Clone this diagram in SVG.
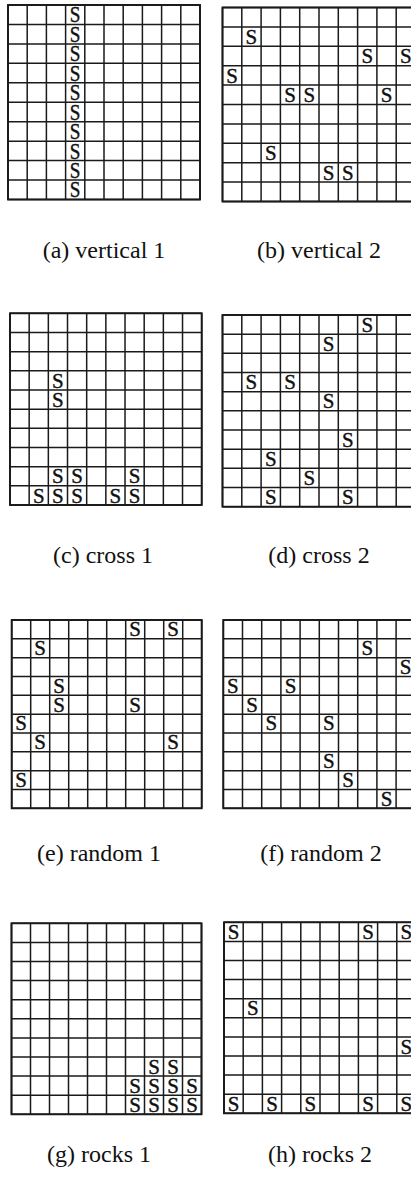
<svg xmlns="http://www.w3.org/2000/svg" width="411" height="1179" viewBox="0 0 411 1179">
<style>
.bg{fill:#fff}
.gl{fill:none;stroke:#1a1a1a;stroke-width:1.5}
.bd{fill:none;stroke:#1a1a1a;stroke-width:1.9}
.s{font-family:"Liberation Serif","Times New Roman",serif;font-size:21px;fill:#111;stroke:#111;stroke-width:0.4;text-anchor:middle}
.sa{font-family:"Liberation Serif","Times New Roman",serif;font-size:24px;fill:#111;stroke:#111;stroke-width:0.4;text-anchor:middle}
.lb{font-family:"Liberation Serif","Times New Roman",serif;font-size:24px;fill:#111;text-anchor:middle}
</style>
<rect class="bg" x="0" y="0" width="411" height="1179"/>

<g id="grid-a">
<path class="gl" d="M8 5h192m-192 19.45h192m-192 19.45h192m-192 19.45h192m-192 19.45h192m-192 19.45h192m-192 19.45h192m-192 19.45h192m-192 19.45h192m-192 19.45h192m-192 19.45h192M8 5v194.5m19.2-194.5v194.5m19.2-194.5v194.5m19.2-194.5v194.5m19.2-194.5v194.5m19.2-194.5v194.5m19.2-194.5v194.5m19.2-194.5v194.5m19.2-194.5v194.5m19.2-194.5v194.5m19.2-194.5v194.5"/>
<rect class="bd" x="8" y="5" width="192" height="194.5"/>
<g transform="translate(75.2,0) scale(0.8,1)">
<text class="sa" x="0" y="22.4">S</text><text class="sa" x="0" y="41.85">S</text><text class="sa" x="0" y="61.3">S</text><text class="sa" x="0" y="80.75">S</text><text class="sa" x="0" y="100.2">S</text><text class="sa" x="0" y="119.65">S</text><text class="sa" x="0" y="139.1">S</text><text class="sa" x="0" y="158.55">S</text><text class="sa" x="0" y="178">S</text><text class="sa" x="0" y="197.45">S</text>
</g>
<text class="lb" x="104" y="258">(a) vertical 1</text>
</g>

<g id="grid-b">
<path class="gl" d="M222.5 7.5h193m-193 19.4h193m-193 19.4h193m-193 19.4h193m-193 19.4h193m-193 19.4h193m-193 19.4h193m-193 19.4h193m-193 19.4h193m-193 19.4h193m-193 19.4h193M222.5 7.5v194m19.3-194v194m19.3-194v194m19.3-194v194m19.3-194v194m19.3-194v194m19.3-194v194m19.3-194v194m19.3-194v194m19.3-194v194m19.3-194v194"/>
<rect class="bd" x="222.5" y="7.5" width="193" height="194"/>
<text class="s" x="251.45" y="43.8">S</text>
<text class="s" x="367.25" y="63.2">S</text>
<text class="s" x="405.85" y="63.2">S</text>
<text class="s" x="232.15" y="82.6">S</text>
<text class="s" x="290.05" y="102">S</text>
<text class="s" x="309.35" y="102">S</text>
<text class="s" x="386.55" y="102">S</text>
<text class="s" x="270.75" y="160.2">S</text>
<text class="s" x="328.65" y="179.6">S</text>
<text class="s" x="347.95" y="179.6">S</text>
<text class="lb" x="319" y="258">(b) vertical 2</text>
</g>

<g id="grid-c">
<path class="gl" d="M10 313.3h191.7m-191.7 19.17h191.7m-191.7 19.17h191.7m-191.7 19.17h191.7m-191.7 19.17h191.7m-191.7 19.17h191.7m-191.7 19.17h191.7m-191.7 19.17h191.7m-191.7 19.17h191.7m-191.7 19.17h191.7m-191.7 19.17h191.7M10 313.3v191.7m19.17-191.7v191.7m19.17-191.7v191.7m19.17-191.7v191.7m19.17-191.7v191.7m19.17-191.7v191.7m19.17-191.7v191.7m19.17-191.7v191.7m19.17-191.7v191.7m19.17-191.7v191.7m19.17-191.7v191.7"/>
<rect class="bd" x="10" y="313.3" width="191.7" height="191.7"/>
<text class="s" x="57.9" y="387.5">S</text>
<text class="s" x="57.9" y="406.65">S</text>
<text class="s" x="57.9" y="483.3">S</text>
<text class="s" x="77.1" y="483.3">S</text>
<text class="s" x="134.6" y="483.3">S</text>
<text class="s" x="38.8" y="502.5">S</text>
<text class="s" x="57.9" y="502.5">S</text>
<text class="s" x="77.1" y="502.5">S</text>
<text class="s" x="115.4" y="502.5">S</text>
<text class="s" x="134.6" y="502.5">S</text>
<text class="lb" x="103" y="563">(c) cross 1</text>
</g>

<g id="grid-d">
<path class="gl" d="M222.5 315h193m-193 19.17h193m-193 19.17h193m-193 19.17h193m-193 19.17h193m-193 19.17h193m-193 19.17h193m-193 19.17h193m-193 19.17h193m-193 19.17h193m-193 19.17h193M222.5 315v191.7m19.3-191.7v191.7m19.3-191.7v191.7m19.3-191.7v191.7m19.3-191.7v191.7m19.3-191.7v191.7m19.3-191.7v191.7m19.3-191.7v191.7m19.3-191.7v191.7m19.3-191.7v191.7m19.3-191.7v191.7"/>
<rect class="bd" x="222.5" y="315" width="193" height="191.7"/>
<text class="s" x="367.25" y="331.67">S</text>
<text class="s" x="328.65" y="350.84">S</text>
<text class="s" x="251.45" y="389.18">S</text>
<text class="s" x="290.05" y="389.18">S</text>
<text class="s" x="328.65" y="408.35">S</text>
<text class="s" x="347.95" y="446.69">S</text>
<text class="s" x="270.75" y="465.86">S</text>
<text class="s" x="309.35" y="485.03">S</text>
<text class="s" x="270.75" y="504.2">S</text>
<text class="s" x="347.95" y="504.2">S</text>
<text class="lb" x="319" y="563">(d) cross 2</text>
</g>

<g id="grid-e">
<path class="gl" d="M11.7 620h190m-190 18.83h190m-190 18.83h190m-190 18.83h190m-190 18.83h190m-190 18.83h190m-190 18.83h190m-190 18.83h190m-190 18.83h190m-190 18.83h190m-190 18.83h190M11.7 620v188.3m19-188.3v188.3m19-188.3v188.3m19-188.3v188.3m19-188.3v188.3m19-188.3v188.3m19-188.3v188.3m19-188.3v188.3m19-188.3v188.3m19-188.3v188.3m19-188.3v188.3"/>
<rect class="bd" x="11.7" y="620" width="190" height="188.3"/>
<text class="s" x="135.2" y="636.33">S</text>
<text class="s" x="173.2" y="636.33">S</text>
<text class="s" x="40.2" y="655.16">S</text>
<text class="s" x="59.2" y="692.82">S</text>
<text class="s" x="59.2" y="711.65">S</text>
<text class="s" x="135.2" y="711.65">S</text>
<text class="s" x="21.2" y="730.48">S</text>
<text class="s" x="40.2" y="749.31">S</text>
<text class="s" x="173.2" y="749.31">S</text>
<text class="s" x="21.2" y="786.97">S</text>
<text class="lb" x="99" y="861">(e) random 1</text>
</g>

<g id="grid-f">
<path class="gl" d="M223.3 620h192m-192 18.83h192m-192 18.83h192m-192 18.83h192m-192 18.83h192m-192 18.83h192m-192 18.83h192m-192 18.83h192m-192 18.83h192m-192 18.83h192m-192 18.83h192M223.3 620v188.3m19.2-188.3v188.3m19.2-188.3v188.3m19.2-188.3v188.3m19.2-188.3v188.3m19.2-188.3v188.3m19.2-188.3v188.3m19.2-188.3v188.3m19.2-188.3v188.3m19.2-188.3v188.3m19.2-188.3v188.3"/>
<rect class="bd" x="223.3" y="620" width="192" height="188.3"/>
<text class="s" x="367.3" y="655.16">S</text>
<text class="s" x="405.7" y="673.99">S</text>
<text class="s" x="232.9" y="692.82">S</text>
<text class="s" x="290.5" y="692.82">S</text>
<text class="s" x="252.1" y="711.65">S</text>
<text class="s" x="271.3" y="730.48">S</text>
<text class="s" x="328.9" y="730.48">S</text>
<text class="s" x="328.9" y="768.14">S</text>
<text class="s" x="348.1" y="786.97">S</text>
<text class="s" x="386.5" y="805.8">S</text>
<text class="lb" x="321" y="861">(f) random 2</text>
</g>

<g id="grid-g">
<path class="gl" d="M11.5 923.3h190m-190 19.1h190m-190 19.1h190m-190 19.1h190m-190 19.1h190m-190 19.1h190m-190 19.1h190m-190 19.1h190m-190 19.1h190m-190 19.1h190m-190 19.1h190M11.5 923.3v191m19-191v191m19-191v191m19-191v191m19-191v191m19-191v191m19-191v191m19-191v191m19-191v191m19-191v191m19-191v191"/>
<rect class="bd" x="11.5" y="923.3" width="190" height="191"/>
<text class="s" x="154" y="1073.6">S</text>
<text class="s" x="173" y="1073.6">S</text>
<text class="s" x="135" y="1092.7">S</text>
<text class="s" x="154" y="1092.7">S</text>
<text class="s" x="173" y="1092.7">S</text>
<text class="s" x="192" y="1092.7">S</text>
<text class="s" x="135" y="1111.8">S</text>
<text class="s" x="154" y="1111.8">S</text>
<text class="s" x="173" y="1111.8">S</text>
<text class="s" x="192" y="1111.8">S</text>
<text class="lb" x="99" y="1162">(g) rocks 1</text>
</g>

<g id="grid-h">
<path class="gl" d="M224 922.3h192m-192 19.1h192m-192 19.1h192m-192 19.1h192m-192 19.1h192m-192 19.1h192m-192 19.1h192m-192 19.1h192m-192 19.1h192m-192 19.1h192m-192 19.1h192M224 922.3v191m19.2-191v191m19.2-191v191m19.2-191v191m19.2-191v191m19.2-191v191m19.2-191v191m19.2-191v191m19.2-191v191m19.2-191v191m19.2-191v191"/>
<rect class="bd" x="224" y="922.3" width="192" height="191"/>
<text class="s" x="233.6" y="938.9">S</text>
<text class="s" x="368" y="938.9">S</text>
<text class="s" x="406.4" y="938.9">S</text>
<text class="s" x="252.8" y="1015.3">S</text>
<text class="s" x="406.4" y="1053.5">S</text>
<text class="s" x="233.6" y="1110.8">S</text>
<text class="s" x="272" y="1110.8">S</text>
<text class="s" x="310.4" y="1110.8">S</text>
<text class="s" x="368" y="1110.8">S</text>
<text class="s" x="406.4" y="1110.8">S</text>
<text class="lb" x="320" y="1162">(h) rocks 2</text>
</g>

<g id="connectors"></g>
</svg>
